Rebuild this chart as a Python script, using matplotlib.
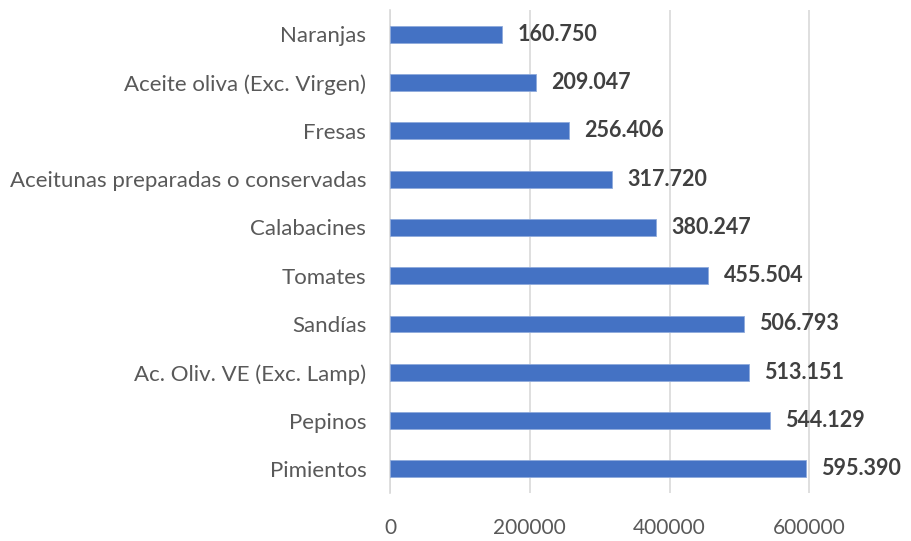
import matplotlib
matplotlib.use("Agg")
import matplotlib.pyplot as plt

categories = ["Pimientos", "Pepinos", "Ac. Oliv. VE (Exc. Lamp)", "Sandías", "Tomates",
              "Calabacines", "Aceitunas preparadas o conservadas", "Fresas",
              "Aceite oliva (Exc. Virgen)", "Naranjas"]
values = [595390, 544129, 513151, 506793, 455504, 380247, 317720, 256406, 209047, 160750]
labels = ["595.390", "544.129", "513.151", "506.793", "455.504", "380.247", "317.720",
          "256.406", "209.047", "160.750"]
xticks = [0, 200000, 400000, 600000]

plt.rcParams['font.family'] = ['Lato', 'DejaVu Sans']
fig = plt.figure(figsize=(9.12, 5.41), dpi=100)
ax = fig.add_axes([0.4276, 0.0887, 0.5364, 0.8928])
y = list(range(len(categories)))
ax.barh(y, values, height=0.35, color="#4472C4", edgecolor="#8FAADC", linewidth=0.6, zorder=3)
for yi, v, lab in zip(y, values, labels):
    ax.annotate(lab, (v, yi), xytext=(11, 0), textcoords="offset points", va="center",
                ha="left", fontsize=15.5, fontweight="bold", color="#404040", zorder=4)
ax.set_yticks(y)
ax.set_yticklabels(categories, fontsize=16, color="#595959")
ax.set_ylim(-0.5, len(categories) - 0.5)
ax.set_xlim(0, 700000)
ax.set_xticks(xticks)
ax.set_xticklabels([str(t) for t in xticks], fontsize=15, color="#595959")
ax.grid(axis="x", color="#D9D9D9", linewidth=1.2, zorder=0)
for s in ["top", "right", "bottom"]:
    ax.spines[s].set_visible(False)
ax.spines["left"].set_color("#D9D9D9")
ax.spines["left"].set_linewidth(1.2)
ax.tick_params(axis="both", length=0)
ax.tick_params(axis="x", pad=18)
ax.tick_params(axis="y", pad=17)
fig.savefig("out.png", dpi=100)
